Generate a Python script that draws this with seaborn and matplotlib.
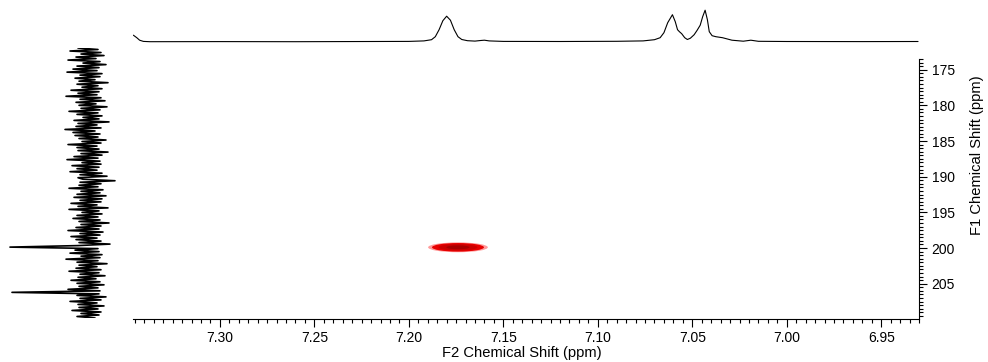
import numpy as np
import pandas as pd
import matplotlib
matplotlib.use("Agg")
import matplotlib.pyplot as plt
import seaborn as sns
from matplotlib.patches import Ellipse
from matplotlib.ticker import MultipleLocator, FormatStrFormatter

# ---- 1H projection (F2) ----
h_ppm = [7.3458, 7.3440, 7.3425, 7.3405, 7.3370, 7.3000, 7.2600, 7.2200, 7.2000,
         7.1920, 7.1880, 7.1860, 7.1840, 7.1820, 7.1800, 7.1780, 7.1760, 7.1740,
         7.1720, 7.1690, 7.1650, 7.1620, 7.1600, 7.1575, 7.1500, 7.1200, 7.0900,
         7.0760, 7.0700, 7.0670, 7.0650, 7.0630, 7.0605, 7.0590, 7.0578, 7.0568,
         7.0556, 7.0540, 7.0526, 7.0510, 7.0490, 7.0474, 7.0458, 7.0445, 7.0432,
         7.0420, 7.0410, 7.0395, 7.0375, 7.0340, 7.0290, 7.0230, 7.0190, 7.0150,
         7.0000, 6.9600, 6.9305]
h_int = [6.5, 4.0, 1.5, 0.3, 0.0, 0.1, 0.0, 0.2, 0.3,
         0.8, 2.0, 5.0, 12.0, 21.0, 25.5, 21.5, 12.0, 5.0,
         2.2, 1.0, 0.6, 1.2, 1.5, 0.8, 0.3, 0.2, 0.4,
         0.8, 2.0, 4.0, 9.0, 19.0, 27.0, 20.0, 12.0, 10.0,
         8.0, 4.0, 2.2, 3.5, 7.0, 11.5, 16.5, 25.0, 31.5,
         22.0, 10.0, 6.0, 5.0, 4.0, 1.5, 0.5, 1.5, 0.4,
         0.2, 0.1, 0.2]

# ---- 13C projection (F1) ----
f1_start, f1_stop = 172.0, 210.0
f1_int = [
    11, -9, 19, -12, 8, -15, 13, -7, 21, -11, 6, -17, 12, -10, 16, -8, 22, -13, 9, -11,
    14, -6, 10, -19, 12, -9, 7, -13, 18, -10, 11, -8, 23, -12, 9, -16, 13, -7, 10, -18,
    8, -11, 20, -9, 12, -13, 6, -10, 15, -20, 11, -8, 13, -12, 24, -6, 16, -11, 14, -9,
    10, -17, 7, -12, 21, -8, 12, -10, 11, -19, 8, -13, 15, -9, 22, -11, 7, -12, 17, -10,
    12, -8, 19, -13, 9, -18, 11, 6, -26, 9, -12, 10, -9, 20, -14, 8, -11, 12, -17, 15,
    -13, 9, -12, 18, -8, 11, -19, 20, -10, 7, -13, 12, -9, 16, -11, 10, -20, 8, -12, 13,
    -10, 21, -14, 9, -11, 18, -8, 13, -12, 10, -21, 11, 79, -9, 14, -10, 19, -13, 8, -11,
    23, -9, 12, -18, 10, -8, 13, -12, 20, -10, 9, -16, 11, -7, 18, -11, 12, -15, 10, -9,
    21, -11, 77, -10, 12, -17, 9, -12, 19, -8, 11, -15, 10, -9, 17, -12, 8, -10, 12, -6,
]
f1_ppm = np.linspace(f1_start, f1_stop, len(f1_int))

# ---- 2D cross peak list ----
cross_f2 = [7.174]
cross_f1 = [199.9]
cross_w2 = [0.0275]
cross_w1 = [1.2]

# axis ranges
f2_lim = (7.346, 6.930)
f1_lim = (209.95, 173.5)

sns.set_style("white")
plt.rcParams["font.family"] = ["Liberation Sans", "DejaVu Sans"]
plt.rcParams["text.color"] = "black"
plt.rcParams["axes.edgecolor"] = "black"
plt.rcParams["xtick.color"] = "black"
plt.rcParams["ytick.color"] = "black"

W, H = 988, 362
fig = plt.figure(figsize=(W / 100, H / 100), dpi=100)


def box(l, t, r, b):
    return [l / W, 1 - b / H, (r - l) / W, (b - t) / H]


ax = fig.add_axes(box(133, 59, 919, 319))
ax_top = fig.add_axes(box(133, 5, 919, 44))
ax_left = fig.add_axes(box(0, 48, 125, 318))

# top projection
top_df = pd.DataFrame({"ppm": h_ppm, "int": h_int})
sns.lineplot(data=top_df, x="ppm", y="int", ax=ax_top, color="black",
             lw=0.8, estimator=None, sort=False)
ax_top.set_xlim(*f2_lim)
ax_top.set_ylim(-2.3, 36.7)
ax_top.axis("off")

# side projection
side_df = pd.DataFrame({"ppm": f1_ppm, "int": f1_int})
sns.lineplot(data=side_df, x="int", y="ppm", ax=ax_left, color="black",
             lw=1.2, estimator=None, sort=False, orient="y")
ax_left.set_xlim(89, -36)
ax_left.set_ylim(210.0, 172.0)
ax_left.axis("off")

# 2D contour map
ax.set_xlim(*f2_lim)
ax.set_ylim(*f1_lim)
levels = [(1.15, "#ff2020", 0.45), (1.0, "#e80000", 1.0),
          (0.75, "#cc0000", 1.0), (0.45, "#a80000", 1.0)]
for x0, y0, w2, w1 in zip(cross_f2, cross_f1, cross_w2, cross_w1):
    for s, c, a in levels:
        ax.add_patch(Ellipse((x0, y0), width=w2 * s, height=w1 * s,
                             facecolor=c, edgecolor="none", alpha=a))

for side in ("top", "left"):
    ax.spines[side].set_visible(False)
for side in ("bottom", "right"):
    ax.spines[side].set_linewidth(0.8)

ax.yaxis.tick_right()
ax.xaxis.set_major_locator(MultipleLocator(0.05))
ax.xaxis.set_minor_locator(MultipleLocator(0.005))
ax.xaxis.set_major_formatter(FormatStrFormatter("%.2f"))
ax.yaxis.set_major_locator(MultipleLocator(5))
ax.yaxis.set_minor_locator(MultipleLocator(0.5))
ax.tick_params(axis="x", which="both", bottom=True, top=False, direction="out",
               width=0.8, labelsize=10, pad=3)
ax.tick_params(axis="x", which="major", length=6)
ax.tick_params(axis="x", which="minor", length=3)
ax.tick_params(axis="y", which="both", right=True, left=False, labelright=True,
               labelleft=False, direction="out", width=0.8, labelsize=10, pad=3)
ax.tick_params(axis="y", which="major", length=6)
ax.tick_params(axis="y", which="minor", length=3)

fig.text(522 / W, 1 - 353 / H, "F2 Chemical Shift (ppm)", ha="center",
         va="center", fontsize=10.6)
fig.text(977 / W, 1 - 155 / H, "F1 Chemical Shift (ppm)", ha="center",
         va="center", rotation=90, fontsize=10.6)

fig.savefig("out.png", dpi=100, facecolor="white")
